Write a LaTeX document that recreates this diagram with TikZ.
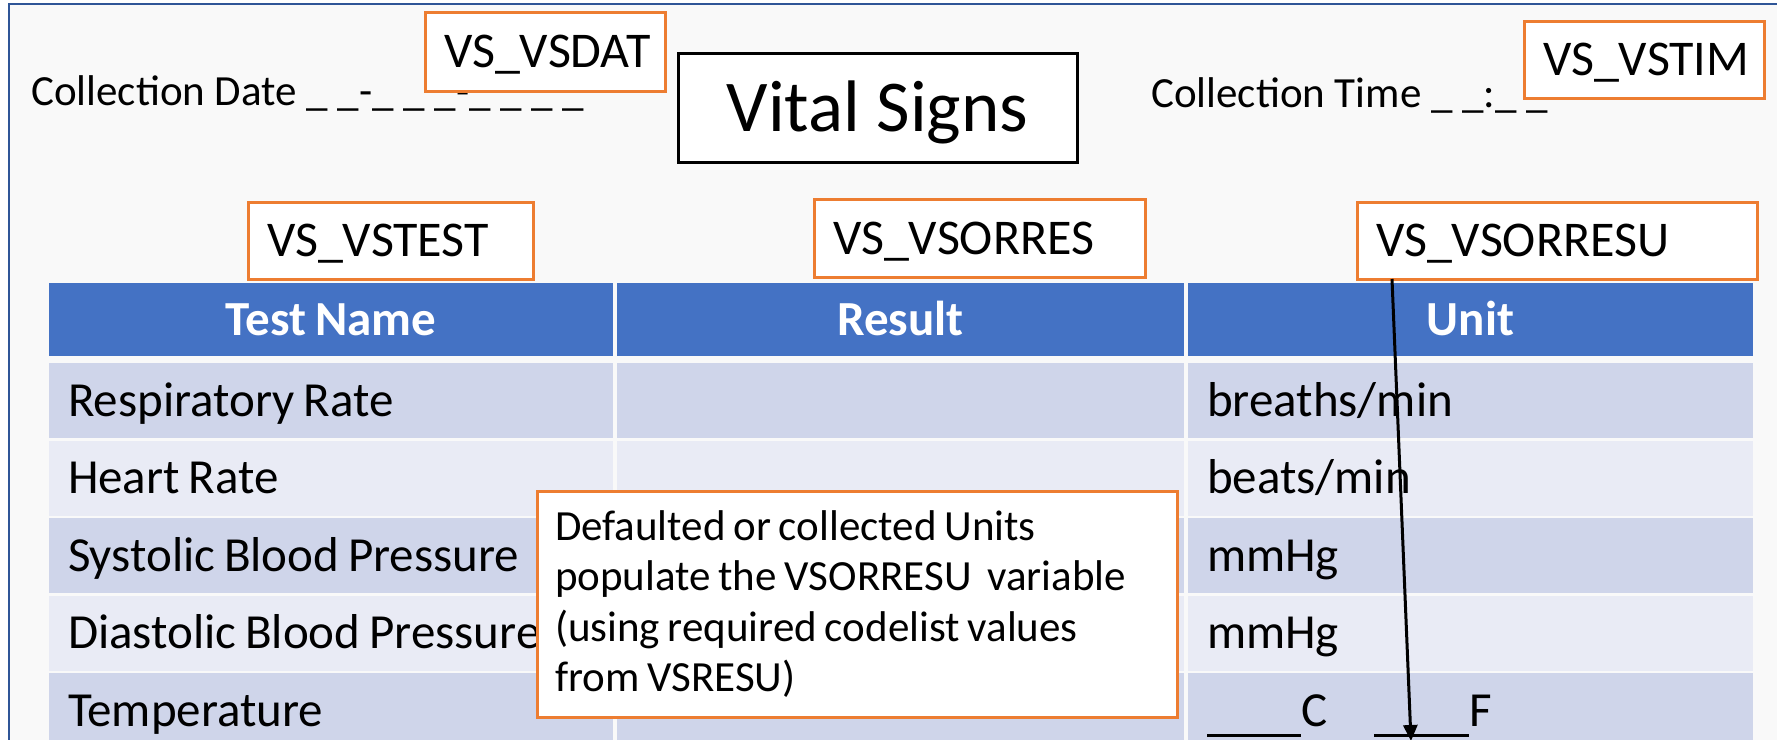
\documentclass[tikz,border=0pt]{standalone}
\usepackage{fontspec}
\setmainfont{Carlito}[WordSpace=0.8]
\newfontfamily\widespaced{Carlito}
\usetikzlibrary{arrows.meta,calc}
\definecolor{hdrblue}{HTML}{4472C4}
\definecolor{rowdark}{HTML}{CFD5EA}
\definecolor{rowlight}{HTML}{E9EBF5}
\definecolor{tagorange}{HTML}{ED7D31}
\definecolor{frameblue}{HTML}{2F5597}
\definecolor{pagebg}{HTML}{F9F9F9}

\begin{document}
\begin{tikzpicture}[x=1pt,y=-1pt,
  tagbox/.style={draw=tagorange, line width=3pt, fill=white, outer sep=0pt,
    inner xsep=19pt, inner ysep=0pt, align=flush left, anchor=north west,
    text height=32pt, text depth=0pt, font=\fontsize{50}{55}\selectfont},
  plaintext/.style={anchor=base west, inner sep=0pt, font=\widespaced\fontsize{43}{48}\selectfont},
  hdrcell/.style={fill=hdrblue, text=white, outer sep=0pt, inner sep=0pt,
    anchor=north west, align=center, text height=31.5pt, text depth=0pt,
    font=\fontsize{49}{54}\bfseries\selectfont},
  bodycell/.style={outer sep=0pt, inner xsep=19pt, inner ysep=0pt, anchor=north west,
    align=flush left, text height=31.5pt, text depth=0pt, font=\fontsize{49}{54}\selectfont},
  notebox/.style={draw=tagorange, line width=3pt, fill=white, outer sep=0pt,
    inner xsep=18pt, align=flush left, font=\fontsize{43}{50.5}\selectfont},
  titlebox/.style={draw=black, line width=3pt, fill=white, outer sep=0pt,
    text height=47pt, text depth=0pt, font=\widespaced\fontsize{73}{80}\selectfont},
  pointer/.style={draw=black, line width=3pt, -{Triangle[length=16pt,width=14pt]}}
]
\useasboundingbox (0,0) rectangle (1777,739);

% page background and frame
\fill[white] (0,0) rectangle (1777,739);
\fill[pagebg] (9,4) rectangle (1800,760);
\draw[frameblue, line width=2pt] (9,760) -- (9,4) -- (1800,4);

% form heading
\node[plaintext] (datelbl) at (31,105) {Collection Date \_ \_-\_ \_ \_-\_ \_ \_ \_};
\node[plaintext] (timelbl) at (1151,107) {Collection Time \_ \_:\_ \_};
\node[titlebox, minimum width=399pt, minimum height=109pt] (title) at (877.5,107.5) {Vital Signs};

\node[tagbox, text width=202pt, minimum height=79pt] (vsdat) at (425,12) {VS\_VSDAT};
\node[tagbox, text width=202pt, minimum height=77pt] (vstim) at (1524,21) {VS\_VSTIM};

% column variable tags
\node[tagbox, text width=247pt, minimum height=77pt] (vstest) at (248,202) {VS\_VSTEST};
\node[tagbox, text width=293pt, minimum height=78pt] (vsorres) at (814,199) {VS\_VSORRES};
\node[tagbox, text width=362pt, minimum height=77pt] (vsorresu) at (1357,202) {VS\_VSORRESU};

% table header
\node[hdrcell, minimum width=564pt, minimum height=73pt] (h1) at (49,283) {Test Name};
\node[hdrcell, minimum width=567pt, minimum height=73pt] (h2) at (617,283) {Result};
\node[hdrcell, minimum width=565pt, minimum height=73pt] (h3) at (1188,283) {Unit};

% table body
\foreach \r/\y/\shade/\test/\unit in {
    1/363/rowdark/Respiratory Rate/breaths\slash min,
    2/440.5/rowlight/Heart Rate/beats\slash min,
    3/518/rowdark/Systolic Blood Pressure/mmHg,
    4/595.5/rowlight/Diastolic Blood Pressure/mmHg,
    5/673/rowdark/Temperature/\rule[-10.5pt]{94pt}{2.8pt}C\hspace{47pt}\rule[-10.5pt]{95pt}{2.8pt}F} {
  \node[bodycell, fill=\shade, text width=526pt, minimum height=75pt] (r\r c1) at (49,\y) {\test};
  \node[bodycell, fill=\shade, text width=529pt, minimum height=75pt] (r\r c2) at (617,\y) {};
  \node[bodycell, fill=\shade, text width=527pt, minimum height=75pt] (r\r c3) at (1188,\y) {\unit};
}

% explanatory note
\node[notebox, text width=604pt, minimum width=640pt, minimum height=226pt] (note) at (857,604)
  {Defaulted or collected Units\\populate the VSORRESU\ \ variable\\(using required codelist values\\from VSRESU)};

% unit tag points down the unit column
\coordinate (unitend) at (1411,741);
\draw[pointer] ($(vsorresu.south west)+(35,0)$) -- (unitend);
\end{tikzpicture}
\end{document}
